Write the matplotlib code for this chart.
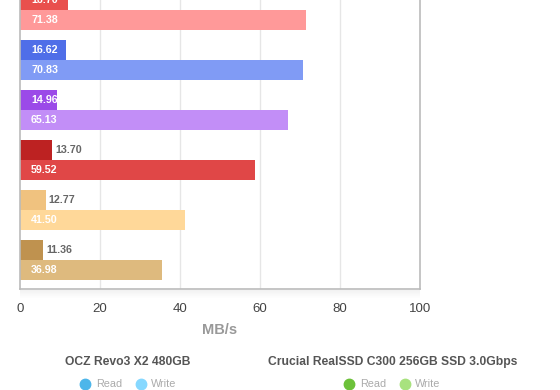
import matplotlib.pyplot as plt
from matplotlib.patches import Rectangle
from matplotlib.lines import Line2D

plt.rcParams['font.family'] = ['Liberation Sans', 'DejaVu Sans']

# groups listed top to bottom; the top group is partly cut off in the source
read_len = [12.0, 11.5, 9.25, 8.0, 6.4, 5.75]      # bar lengths as drawn (MB/s)
write_len = [71.5, 70.75, 67.0, 58.75, 41.25, 35.5]
read_text = ["16.70", "16.62", "14.96", "13.70", "12.77", "11.36"]
write_text = ["71.38", "70.83", "65.13", "59.52", "41.50", "36.98"]
read_colors = ["#e9504d", "#4f6ee8", "#9b4ae8", "#bd2222", "#f0c27f", "#bf924f"]
write_colors = ["#ff9999", "#809bf5", "#c28ef7", "#e04747", "#ffd899", "#deba7e"]
xticks = [0, 20, 40, 60, 80, 100]
legend_titles = ["OCZ Revo3 X2 480GB", "Crucial RealSSD C300 256GB SSD 3.0Gbps"]
legend_colors = [("#4db6ea", "#86d8ff"), ("#6cc13a", "#a8e27e")]

W, H = 560, 390
fig = plt.figure(figsize=(W / 100, H / 100), dpi=100)
fig.patch.set_facecolor("white")

# plot area: x 20..420 px, bottom at 289 px, top runs off the image
ax_top = -40
ax = fig.add_axes([20 / W, (H - 289) / H, 400 / W, (289 - ax_top) / H])
ax.set_xlim(0, 100)
ax.set_ylim(0, 289 - ax_top)
ax.set_facecolor("white")

for v in xticks[1:-1]:
    ax.axvline(v, color="#e6e6e6", lw=1, zorder=0)

n = len(read_len)
for i in range(n):
    k = n - 1 - i  # slot from bottom
    y_w = 9 + 50 * k
    y_r = y_w + 20
    ax.barh(y_r, read_len[i], height=20, align="edge", color=read_colors[i], zorder=2)
    ax.barh(y_w, write_len[i], height=20, align="edge", color=write_colors[i], zorder=2)
    # read label inside if it fits, else just past the bar end
    if read_len[i] > 9:
        ax.text(2.75, y_r + 10, read_text[i], color="white", fontsize=7.7,
                fontweight="bold", va="center", ha="left", zorder=3)
    else:
        ax.text(read_len[i] + 0.8, y_r + 10, read_text[i], color="#666666", fontsize=7.7,
                fontweight="bold", va="center", ha="left", zorder=3)
    ax.text(2.75, y_w + 10, write_text[i], color="white", fontsize=7.7,
            fontweight="bold", va="center", ha="left", zorder=3)

for side in ["left", "bottom", "right"]:
    ax.spines[side].set_color("#bbbbbb")
    ax.spines[side].set_linewidth(1.2)
ax.spines["top"].set_visible(False)
ax.set_yticks([])
ax.set_xticks(xticks)
ax.tick_params(axis="x", length=0, pad=10, labelsize=9.5, labelcolor="#444444")
ax.set_xlabel("MB/s", fontsize=10.5, fontweight="bold", color="#999999", labelpad=6)

# soft shadow under the plot area
for j in range(8):
    fig.patches.append(Rectangle((20 / W, (H - 291 - j) / H), 400 / W, 1 / H,
                                 transform=fig.transFigure, color="#000000",
                                 alpha=0.05 * (1 - j / 8), lw=0, zorder=0))

# legends for the two drives
centers = [128, 393]
read_x = [(85, 96), (349, 360)]
write_x = [(141, 151), (405, 415)]
for t, cx, rx, wx, cols in zip(legend_titles, centers, read_x, write_x, legend_colors):
    fig.text(cx / W, (H - 362) / H, t, ha="center", va="center", fontsize=8.7,
             fontweight="bold", color="#555555")
    for (dx, tx), c, lab in [(rx, cols[0], "Read"), (wx, cols[1], "Write")]:
        fig.add_artist(Line2D([dx / W], [(H - 384) / H], transform=fig.transFigure,
                              marker="o", markersize=7.5, color=c, lw=0))
        fig.text(tx / W, (H - 384) / H, lab, ha="left", va="center", fontsize=7.8,
                 color="#aaaaaa")

fig.savefig("out.png", dpi=100)
